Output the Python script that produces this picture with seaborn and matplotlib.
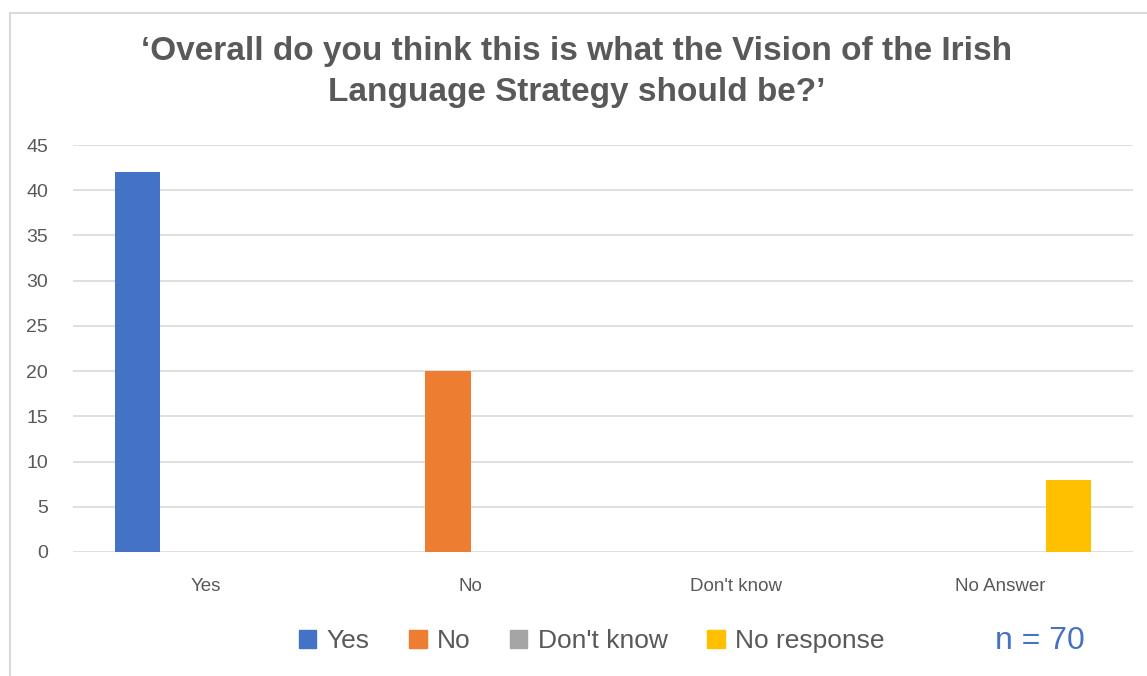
import matplotlib
matplotlib.use("Agg")
import matplotlib.pyplot as plt
import seaborn as sns
import pandas as pd
from matplotlib.patches import Rectangle

categories = ["Yes", "No", "Don't know", "No Answer"]
series = ["Yes", "No", "Don't know", "No response"]
values = {
    "Yes":         [42, 0, 0, 0],
    "No":          [0, 20, 0, 0],
    "Don't know":  [0, 0, 0, 0],
    "No response": [0, 0, 0, 8],
}
colors = ["#4472C4", "#ED7D31", "#A5A5A5", "#FFC000"]
title = "\u2018Overall do you think this is what the Vision of the Irish\nLanguage Strategy should be?\u2019"
n_label = "n = 70"

rows = []
for s in series:
    for c, v in zip(categories, values[s]):
        rows.append({"category": c, "series": s, "value": v})
df = pd.DataFrame(rows)

sns.set_theme(style="white")
plt.rcParams["font.family"] = ["Liberation Sans", "DejaVu Sans"]

fig = plt.figure(figsize=(11.47, 6.76), dpi=100)
ax = fig.add_axes([73/1147, 1-552/676, (1133-73)/1147, (552-145)/676])

sns.barplot(data=df, x="category", y="value", hue="series", order=categories,
            hue_order=series, palette=colors, width=0.685, dodge=True,
            linewidth=0, errorbar=None, ax=ax, legend=False, saturation=1)

ax.set_xlim(-0.5, 3.5)
ax.set_ylim(0, 45)
ax.set_yticks(range(0, 46, 5))
ax.yaxis.grid(True, color="#D9D9D9", linewidth=1.2)
ax.set_axisbelow(True)
for sp in ax.spines.values():
    sp.set_visible(False)
ax.set_xlabel("")
ax.set_ylabel("")
ax.tick_params(axis="y", labelsize=14, labelcolor="#595959", length=0, pad=18)
ax.tick_params(axis="x", labelsize=13.5, labelcolor="#595959", length=0, pad=19)

fig.text(0.503, 1-72/676, title, ha="center", va="center", fontsize=24,
         fontweight="bold", color="#595959", linespacing=1.45)

handles = [Rectangle((0, 0), 1, 1, color=c) for c in colors]
fig.legend(handles, series, loc="center", bbox_to_anchor=(0.516, 1-641/676),
           ncol=4, frameon=False, fontsize=19, handlelength=0.65, handleheight=0.65,
           handletextpad=0.4, columnspacing=1.5, labelcolor="#595959")

fig.text(1040/1147, 1-641/676, n_label, ha="center", va="center", fontsize=23,
         color="#4472C4")

fig.patches.append(Rectangle((10/1147, -0.01), 1.0, 1-13/676+0.01,
                             transform=fig.transFigure, fill=False,
                             edgecolor="#D9D9D9", linewidth=1.5))

fig.savefig("out.png", dpi=100)
